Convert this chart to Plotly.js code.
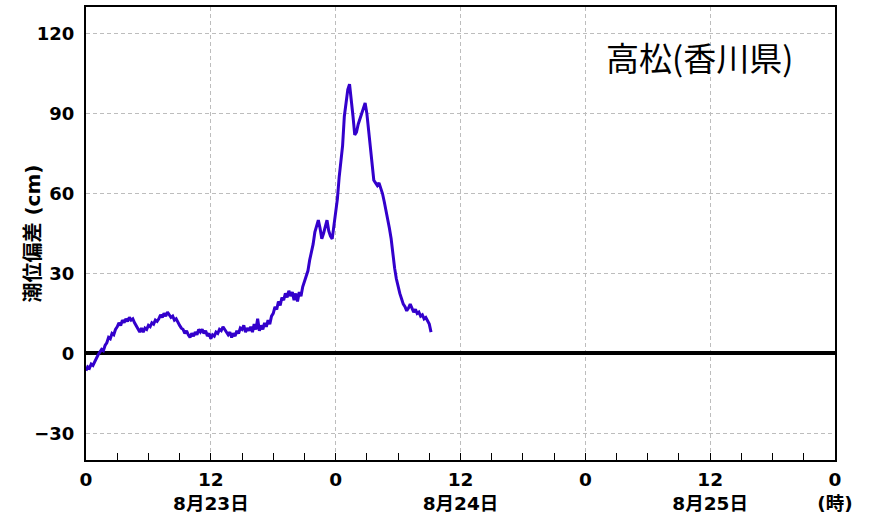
<!DOCTYPE html>
<html>
<head>
<meta charset="utf-8">
<script src="https://cdn.plot.ly/plotly-3.0.1.min.js"></script>
<style>html,body{margin:0;padding:0;background:#fff;}#chart{width:872px;height:520px;}</style>
</head>
<body>
<div id="chart"></div>
<script>
// Storm surge (潮位偏差, cm) at Takamatsu, sampled every 10 minutes from 8/23 00:00
const stationName = "高松(香川県)";
const sampleStepMinutes = 10;
const surgeCm = [
  -6.5, -5, -5.5, -4, -4.5, -3,
  -2, -0.5, 0.5, 1.5, 1, 3,
  4, 6, 5.5, 7.5, 7, 9,
  10, 11.5, 10.5, 12.5, 11.5, 13,
  12, 13.5, 12.5, 13, 11.5, 10.5,
  9, 8, 9.5, 8, 9.5, 9,
  10.5, 10, 11.5, 11, 12.5, 12,
  13, 14.5, 13.5, 15, 14, 15.5,
  14.5, 13.5, 14, 12.5, 13, 11.5,
  10.5, 9.5, 9, 7.5, 8.5, 7,
  6, 7.5, 6.5, 8, 7, 9,
  8, 9, 7.5, 8.5, 6.5, 7.5,
  5.5, 7, 6.5, 8, 7.5, 9,
  8.5, 10, 9, 8.5, 7, 8,
  6, 7.5, 6.5, 8.5, 7.5, 9.5,
  9, 10.5, 8, 9.5, 8.5, 10,
  8, 11, 9, 13, 8.5, 10.5,
  9, 11.5, 10, 12.5, 11, 14,
  15, 17.5, 16.5, 19.5, 18, 21,
  20, 22.5, 21, 23.5, 21.5, 23,
  20, 22.5, 19.5, 23, 21.5, 25,
  27, 29.5, 31, 35, 38, 41,
  45.5, 48, 50, 47, 43, 45,
  48, 50, 46, 44, 43, 48.5,
  52, 58, 66, 71, 78, 89,
  95, 99, 101, 96, 89, 82,
  83, 86, 88, 90, 92, 94,
  90, 84, 77, 70, 65, 64,
  63, 64, 62, 60, 57, 54,
  51, 47, 43, 37, 32, 28,
  25, 22.5, 20.5, 18.5, 17.5, 16,
  17, 18.5, 17, 15.5, 16.5, 15,
  15.5, 14, 14.5, 13, 13.5, 12,
  11, 8
];
const hoursSinceStart = surgeCm.map((_, i) => i * sampleStepMinutes / 60);

const xTickVals = [0, 12, 24, 36, 48, 60, 72];
const xTickText = ["0", "12<br>8月23日", "0", "12<br>8月24日", "0", "12<br>8月25日", "0<br>(時)"];
const xMinorTickVals = [3, 6, 9, 15, 18, 21, 27, 30, 33, 39, 42, 45, 51, 54, 57, 63, 66, 69];
const yTickVals = [-30, 0, 30, 60, 90, 120];
const yTitle = "潮位偏差 (cm)";

const fontFamily = "DejaVu Sans, Noto Sans CJK JP, sans-serif";

const trace = {
  x: hoursSinceStart,
  y: surgeCm,
  type: "scatter",
  mode: "lines",
  line: {color: "#3300cc", width: 3},
  hoverinfo: "skip"
};

const gridColor = "#bdbdbd";
const gridDash = "4px,3px";

const layout = {
  width: 872,
  height: 520,
  margin: {l: 86, r: 37, t: 7, b: 60},
  paper_bgcolor: "#ffffff",
  plot_bgcolor: "#ffffff",
  showlegend: false,
  font: {family: fontFamily, color: "#000", size: 18},
  xaxis: {
    range: [0, 72],
    tickmode: "array",
    tickvals: xTickVals,
    ticktext: xTickText,
    ticks: "inside",
    ticklen: 7,
    tickwidth: 1,
    tickcolor: "#000",
    showgrid: true,
    gridcolor: gridColor,
    griddash: gridDash,
    gridwidth: 1,
    minor: {tickmode: "array", tickvals: xMinorTickVals, ticks: "inside", ticklen: 7, tickwidth: 1, tickcolor: "#000", showgrid: false},
    showline: true,
    linecolor: "#000",
    linewidth: 2,
    mirror: true,
    zeroline: false,
    ticklabelstandoff: 2,
    tickfont: {family: fontFamily, size: 18.5, weight: "bold", color: "#000"},
    fixedrange: true
  },
  yaxis: {
    range: [-40, 130],
    tickmode: "array",
    tickvals: yTickVals,
    ticks: "",
    showgrid: true,
    gridcolor: gridColor,
    griddash: gridDash,
    gridwidth: 1,
    showline: true,
    linecolor: "#000",
    linewidth: 2,
    mirror: true,
    zeroline: true,
    zerolinecolor: "#000",
    zerolinewidth: 4,
    ticklabelstandoff: 6,
    tickfont: {family: fontFamily, size: 18, weight: "bold", color: "#000"},
    fixedrange: true
  },
  annotations: [
    {
      text: stationName,
      xref: "paper", yref: "paper",
      x: 0.691, y: 0.89,
      xanchor: "left", yanchor: "middle",
      showarrow: false,
      font: {family: "Noto Sans CJK JP, sans-serif", size: 33, color: "#000"}
    },
    {
      text: yTitle,
      xref: "paper", yref: "paper",
      x: -0.072, y: 0.5,
      xanchor: "center", yanchor: "middle",
      textangle: -90,
      showarrow: false,
      font: {family: fontFamily, size: 20, weight: "bold", color: "#000"}
    }
  ]
};

Plotly.newPlot("chart", [trace], layout, {staticPlot: true, displayModeBar: false});
</script>
</body>
</html>
